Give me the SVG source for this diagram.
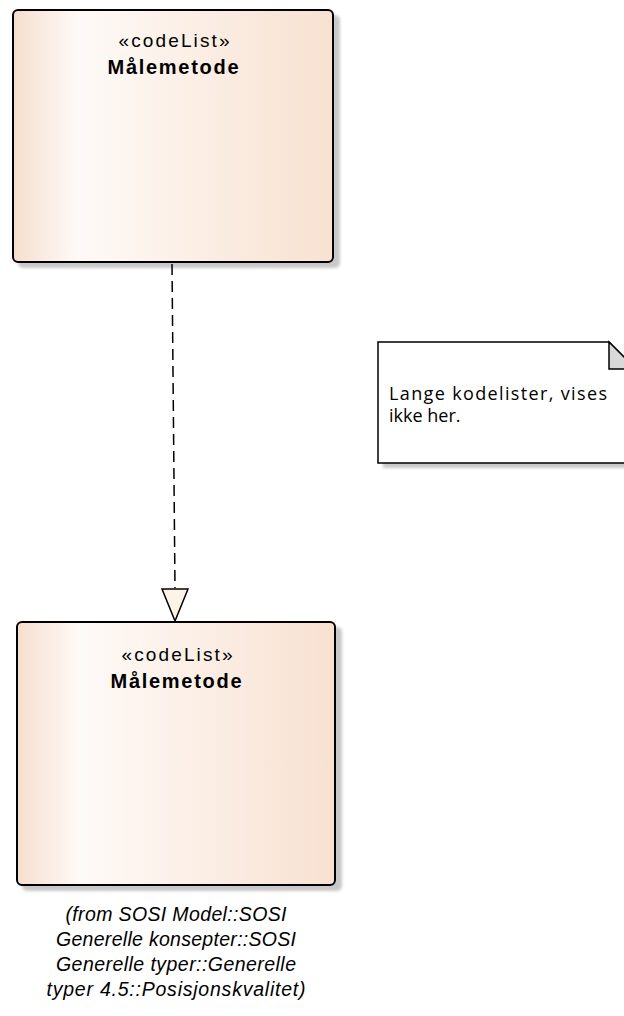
<svg xmlns="http://www.w3.org/2000/svg" width="624" height="1016" viewBox="0 0 624 1016">
<style>
.box{stroke:#000;stroke-width:2;fill:url(#peach)}
.shadow{fill:#c8c8c8;filter:url(#blur)}
.st{font-family:"Liberation Sans",Arial,sans-serif;font-size:19px;text-anchor:middle;fill:#000}
.nm{font-family:"Liberation Sans",Arial,sans-serif;font-size:20px;font-weight:bold;text-anchor:middle;fill:#000}
.note{font-family:"Open Sans","Noto Sans",sans-serif;font-size:18px;fill:#000}
.from{font-family:"Liberation Sans",Arial,sans-serif;font-size:19.5px;font-style:italic;text-anchor:middle;fill:#000}
.conn{stroke:#000;stroke-width:1.5;fill:none;stroke-dasharray:11,6}
</style>
<defs>
<linearGradient id="peach" x1="0" y1="0" x2="1" y2="0">
<stop offset="0" stop-color="#f6dece"/>
<stop offset="0.2" stop-color="#fefaf7"/>
<stop offset="1" stop-color="#f8e1d1"/>
</linearGradient>
<filter id="blur" x="-10%" y="-10%" width="120%" height="120%">
<feGaussianBlur stdDeviation="1.5"/>
</filter>
</defs>
<rect width="624" height="1016" fill="#fff"/>
<g id="node-top">
<rect class="shadow" x="18" y="15" width="322" height="253" rx="5"/>
<rect class="box" x="13" y="10" width="320" height="252" rx="5"/>
<text class="st" x="174" y="47" textLength="111" lengthAdjust="spacing">«codeList»</text>
<text class="nm" x="173" y="74" textLength="131" lengthAdjust="spacing">Målemetode</text>
</g>
<g id="node-bottom">
<rect class="shadow" x="22" y="627" width="320" height="264" rx="5"/>
<rect class="box" x="17" y="622" width="318" height="263" rx="5"/>
<text class="st" x="177" y="661" textLength="111" lengthAdjust="spacing">«codeList»</text>
<text class="nm" x="176" y="688" textLength="131" lengthAdjust="spacing">Målemetode</text>
<text class="from" x="176" y="921" textLength="221" lengthAdjust="spacing">(from SOSI Model::SOSI</text>
<text class="from" x="176" y="946" textLength="240" lengthAdjust="spacing">Generelle konsepter::SOSI</text>
<text class="from" x="176" y="971" textLength="240" lengthAdjust="spacing">Generelle typer::Generelle</text>
<text class="from" x="176" y="996" textLength="259" lengthAdjust="spacing">typer 4.5::Posisjonskvalitet)</text>
</g>
<g id="note">
<path class="shadow" d="M383 347 H614 L641 374 V468 H383 Z"/>
<path d="M378 342 H609 L636 369 V463 H378 Z" fill="#fff" stroke="#000" stroke-width="1.5"/>
<path d="M609 342 V369 H636 Z" fill="#d9d9d9" stroke="#000" stroke-width="1.5" stroke-linejoin="miter"/>
<text class="note" x="389" y="400" textLength="218" lengthAdjust="spacing">Lange kodelister, vises</text>
<text class="note" x="389" y="422">ikke her.</text>
</g>
<g id="connectors">
<path class="conn" d="M172 264 L175 588"/>
<path d="M162 589 L188 589 L175 621 Z" fill="#fdf3e6" stroke="#000" stroke-width="1.5" stroke-linejoin="miter"/>
</g>
</svg>
